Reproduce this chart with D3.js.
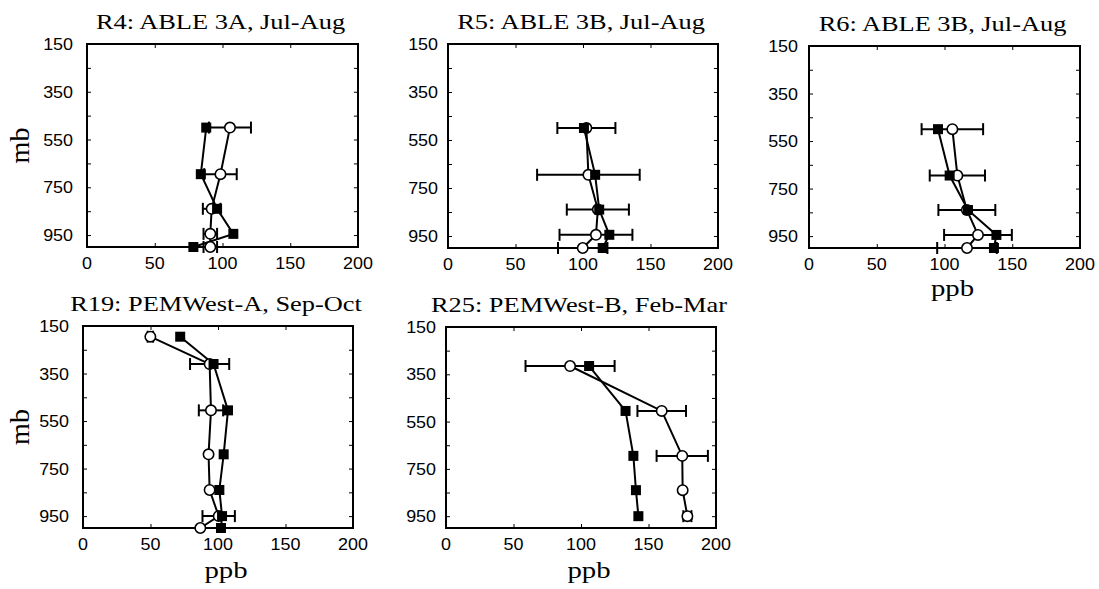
<!DOCTYPE html>
<html><head><meta charset="utf-8">
<script src="https://cdn.jsdelivr.net/npm/d3@7"></script>
<style>body{margin:0;background:#fff}svg{display:block}</style>
</head><body><svg id="c" width="1099" height="589"></svg>
<script>
// ---- data ----
const panelTitles = ["R4: ABLE 3A, Jul-Aug","R5: ABLE 3B, Jul-Aug","R6: ABLE 3B, Jul-Aug","R19: PEMWest-A, Sep-Oct","R25: PEMWest-B, Feb-Mar"];
const yTickLabels = [150,350,550,750,950];
const yMinorTicks = [150,250,350,450,550,650,750,850,950];
const xTickLabels = [0,50,100,150,200];

const r4Levels  = [500,695,840,945,1000];
const r4Square  = [88,84,96,108,78.5];
const r4Circle  = [105.5,98.5,92,91,91];
const r4CircErr = [15.5,12,6.5,5,5];

const r5Levels  = [500,695,840,945,1000];
const r5Square  = [100.7,109,112,119.5,114.6];
const r5Circle  = [102.5,104,111,109.6,99.8];
const r5CircErr = [21.5,38,23,27,18.3];

const r6Levels  = [500,695,840,945,1000];
const r6Square  = [95.2,103.8,117.3,138.3,136.5];
const r6Circle  = [105.8,109.5,116.5,124.7,116.6];
const r6CircErr = [22.7,20.4,21,25,22];

const r19Levels  = [195,310,505,690,840,950,1000];
const r19Square  = [72,96.7,107.4,104.2,101,103,102.2];
const r19Circle  = [49.9,93.8,94.8,93,93.8,100.5,86.9];
const r19CircErr = [2,14.5,9,0,0,12,0];

const r25Levels  = [315,505,695,840,950];
const r25Square  = [106,133,138.8,140.7,142.5];
const r25Circle  = [91.9,159.8,175,175.3,178.8];
const r25CircErr = [33,18,19,0,3];

// ---- layout ----
const layout = [
  {x0:87,x1:358,y0:44,y1:247,lab:14,mb:true,ppb:0},
  {x0:448,x1:718,y0:44,y1:248,lab:10,mb:false,ppb:0},
  {x0:809,x1:1080,y0:46,y1:248,lab:11,mb:false,ppb:48},
  {x0:83,x1:353,y0:326,y1:528,lab:14,mb:true,ppb:50},
  {x0:446,x1:716,y0:327,y1:528,lab:10,mb:false,ppb:50}
];
const series = [
  [r4Levels,r4Square,r4Circle,r4CircErr],
  [r5Levels,r5Square,r5Circle,r5CircErr],
  [r6Levels,r6Square,r6Circle,r6CircErr],
  [r19Levels,r19Square,r19Circle,r19CircErr],
  [r25Levels,r25Square,r25Circle,r25CircErr]
];

const svg = d3.select("#c");
const SERIF = "'Liberation Serif','Times New Roman',serif";
const SANS = "'Liberation Sans',Arial,Helvetica,sans-serif";

function stext(g,x,y,str,size,fam,anchor,sx){
  return g.append("text").attr("transform",`translate(${x},${y}) scale(${sx},1)`)
    .attr("text-anchor",anchor).attr("font-family",fam).attr("font-size",size)
    .attr("fill","#000").text(str);
}

layout.forEach((L,i)=>{
  const [lev,sq,ci,ce] = series[i];
  const x = d3.scaleLinear().domain([0,200]).range([L.x0,L.x1]);
  const y = d3.scaleLinear().domain([150,1000]).range([L.y0,L.y1]);
  const g = svg.append("g");

  // title
  stext(g,(L.x0+L.x1)/2-2, L.y0-15, panelTitles[i], 22, SERIF, "middle", 1.2);

  // inward ticks via axes
  const tk = 4;
  g.append("g").attr("transform",`translate(${L.x0},0)`)
    .call(d3.axisRight(y).tickValues(yMinorTicks).tickSize(tk).tickFormat(""))
    .call(a=>a.select(".domain").remove());
  g.append("g").attr("transform",`translate(${L.x1},0)`)
    .call(d3.axisLeft(y).tickValues(yMinorTicks).tickSize(tk).tickFormat(""))
    .call(a=>a.select(".domain").remove());
  g.append("g").attr("transform",`translate(0,${L.y1})`)
    .call(d3.axisTop(x).tickValues(xTickLabels).tickSize(tk).tickFormat(""))
    .call(a=>a.select(".domain").remove());
  g.append("g").attr("transform",`translate(0,${L.y0})`)
    .call(d3.axisBottom(x).tickValues(xTickLabels).tickSize(tk).tickFormat(""))
    .call(a=>a.select(".domain").remove());
  g.selectAll(".tick line").attr("stroke","#000").attr("stroke-width",1);

  // tick labels
  yTickLabels.forEach(v=>{
    stext(g, L.x0-L.lab, y(v)+6, String(v), 16, SANS, "end", 1.12);
  });
  xTickLabels.forEach(v=>{
    stext(g, x(v), L.y1+22, String(v), 16, SANS, "middle", 1.12);
  });

  // box
  g.append("rect").attr("x",L.x0).attr("y",L.y0).attr("width",L.x1-L.x0).attr("height",L.y1-L.y0)
    .attr("fill","none").attr("stroke","#000").attr("stroke-width",2);

  // axis titles
  if(L.mb){
    g.append("text").attr("transform",`translate(29,${(L.y0+L.y1)/2}) rotate(-90)`)
      .attr("text-anchor","middle").attr("font-family",SERIF).attr("font-size",28).text("mb");
  }
  if(L.ppb){
    stext(g,(L.x0+L.x1)/2+8, L.y1+L.ppb, "ppb", 24, SERIF, "middle", 1.2);
  }

  const line = d3.line().x(d=>x(d[0])).y(d=>y(d[1]));
  const circPts = ci.map((v,j)=>[v,lev[j],ce[j]]);
  const sqPts = sq.map((v,j)=>[v,lev[j]]);

  // lines
  g.append("path").datum(circPts).attr("d",line).attr("fill","none").attr("stroke","#000").attr("stroke-width",2);
  g.append("path").datum(sqPts).attr("d",line).attr("fill","none").attr("stroke","#000").attr("stroke-width",2);

  // error bars
  circPts.filter(d=>d[2]>0).forEach(d=>{
    const xa=x(d[0]-d[2]), xb=x(d[0]+d[2]), yy=y(d[1]);
    g.append("line").attr("x1",xa).attr("x2",xb).attr("y1",yy).attr("y2",yy).attr("stroke","#000").attr("stroke-width",2);
    [xa,xb].forEach(xx=>g.append("line").attr("x1",xx).attr("x2",xx).attr("y1",yy-6).attr("y2",yy+6).attr("stroke","#000").attr("stroke-width",2));
  });

  // circles
  g.selectAll("circle.o").data(circPts).join("circle")
    .attr("cx",d=>x(d[0])).attr("cy",d=>y(d[1])).attr("r",5.2)
    .attr("fill","#fff").attr("stroke","#000").attr("stroke-width",1.6);
  // squares
  g.selectAll("rect.s").data(sqPts).join("rect")
    .attr("x",d=>x(d[0])-5).attr("y",d=>y(d[1])-5).attr("width",10).attr("height",10)
    .attr("fill","#000");
});
</script></body></html>
